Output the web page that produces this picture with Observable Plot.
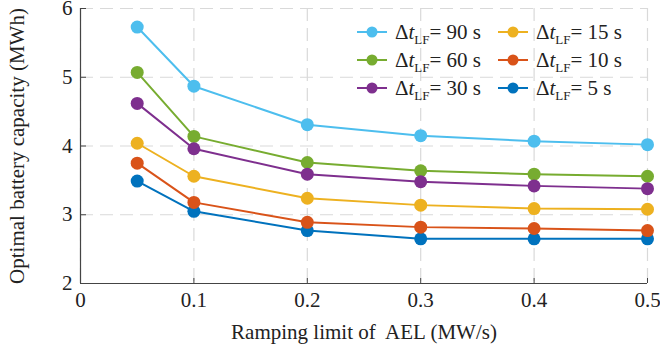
<!DOCTYPE html>
<html>
<head>
<meta charset="utf-8">
<script src="https://cdn.jsdelivr.net/npm/d3@7"></script>
<script src="https://cdn.jsdelivr.net/npm/@observablehq/plot@0.6"></script>
<style>
  html, body { margin: 0; padding: 0; background: #fff; }
  #wrap { position: relative; width: 660px; height: 351px; font-family: "Liberation Serif", "Times New Roman", serif; }
  #legend { position: absolute; left: 0; top: 0; width: 660px; height: 351px; pointer-events: none; }
  .item { position: absolute; display: flex; align-items: center; font-family: "Liberation Serif", "Times New Roman", serif; font-size: 21px; color: #222; white-space: nowrap; }
  .item svg { margin-right: 8px; }
  .item sub { font-size: 13px; vertical-align: -5px; line-height: 0; }
  .item i { font-style: italic; }
</style>
</head>
<body>
<div id="wrap"></div>
<script>
// Ramping limit of the AEL (MW/s)
const rampLimit = [0.05, 0.1, 0.2, 0.3, 0.4, 0.5];

// Optimal battery capacity (MWh) for each low-frequency window Δt_LF
const cap90 = [5.73, 4.87, 4.31, 4.15, 4.07, 4.02];
const cap60 = [5.07, 4.14, 3.76, 3.64, 3.59, 3.56];
const cap30 = [4.62, 3.96, 3.59, 3.48, 3.42, 3.38];
const cap15 = [4.04, 3.56, 3.24, 3.14, 3.09, 3.08];
const cap10 = [3.75, 3.18, 2.89, 2.82, 2.80, 2.77];
const cap5  = [3.49, 3.05, 2.77, 2.65, 2.65, 2.65];

const seriesNames = ["90 s", "60 s", "30 s", "15 s", "10 s", "5 s"];
const seriesValues = [cap90, cap60, cap30, cap15, cap10, cap5];
const seriesColors = ["#4DBEEE", "#77AC30", "#7E2F8E", "#EDB120", "#D95319", "#0072BD"];

const xTicks = [0, 0.1, 0.2, 0.3, 0.4, 0.5];
const yTicks = [2, 3, 4, 5, 6];

// long table: one row per (series, ramp limit)
const rows = seriesNames.flatMap((name, i) =>
  rampLimit.map((r, j) => ({series: name, ramp: r, cap: seriesValues[i][j]}))
);

// draw order: smaller windows first so the lower curves sit underneath
const drawOrder = ["5 s", "10 s", "15 s", "90 s", "60 s", "30 s"];

const gridStyle = {stroke: "#d9d9d9", strokeOpacity: 1, strokeWidth: 1.2, strokeDasharray: "13,7"};
const axisColor = "#444";
const noLabel = () => "";
const plain = d => String(d);

const marks = [
  Plot.gridX(xTicks, {...gridStyle}),
  Plot.gridY(yTicks, {...gridStyle}),
  // tick labels and axis titles
  Plot.axisX(xTicks, {tickSize: 0, tickPadding: 9, fontSize: 21, tickFormat: plain,
    label: "Ramping limit of  AEL (MW/s)", labelAnchor: "center", labelArrow: "none", labelOffset: 55}),
  Plot.axisY(yTicks, {tickSize: 0, tickPadding: 8, fontSize: 21, tickFormat: plain,
    label: "Optimal battery capacity (MWh)", labelAnchor: "center", labelArrow: "none", labelOffset: 71}),
  // short inward tick marks
  Plot.axisX(xTicks, {tickSize: 5, dy: -5, tickFormat: noLabel, label: null, stroke: axisColor}),
  Plot.axisY(yTicks, {tickSize: 6, dx: 6, tickFormat: noLabel, label: null, stroke: axisColor}),
  Plot.ruleX([0], {stroke: axisColor, strokeWidth: 1.2}),
  Plot.ruleY([2], {stroke: axisColor, strokeWidth: 1.2})
];

for (const name of drawOrder) {
  const data = rows.filter(d => d.series === name);
  const color = seriesColors[seriesNames.indexOf(name)];
  marks.push(Plot.line(data, {x: "ramp", y: "cap", stroke: color, strokeWidth: 2}));
  marks.push(Plot.dot(data, {x: "ramp", y: "cap", r: 6.5, fill: color, stroke: "none"}));
}

const chart = Plot.plot({
  width: 660,
  height: 351,
  marginLeft: 80,
  marginRight: 13,
  marginTop: 8,
  marginBottom: 68,
  style: {fontFamily: "Liberation Serif, Times New Roman, serif", fontSize: "22px", color: "#222", background: "#fff"},
  x: {type: "linear", domain: [0, 0.5]},
  y: {type: "linear", domain: [2, 6]},
  marks
});

const wrap = document.getElementById("wrap");
wrap.appendChild(chart);

// Legend: two columns, three rows
const legend = document.createElement("div");
legend.id = "legend";
const legendCols = [357, 498];
const legendRows = [32, 60, 88];
seriesNames.forEach((name, i) => {
  const col = Math.floor(i / 3), row = i % 3;
  const item = document.createElement("div");
  item.className = "item";
  item.style.left = legendCols[col] + "px";
  item.style.top = (legendRows[row] - 13) + "px";
  item.style.height = "26px";
  const c = seriesColors[i];
  item.innerHTML =
    `<svg width="30" height="14"><line x1="0" y1="7" x2="30" y2="7" stroke="${c}" stroke-width="2"/>` +
    `<circle cx="15" cy="7" r="5.5" fill="${c}"/></svg>` +
    `<span>Δ<i>t</i><sub>LF</sub>= ${name}</span>`;
  legend.appendChild(item);
});
wrap.appendChild(legend);
</script>
</body>
</html>
